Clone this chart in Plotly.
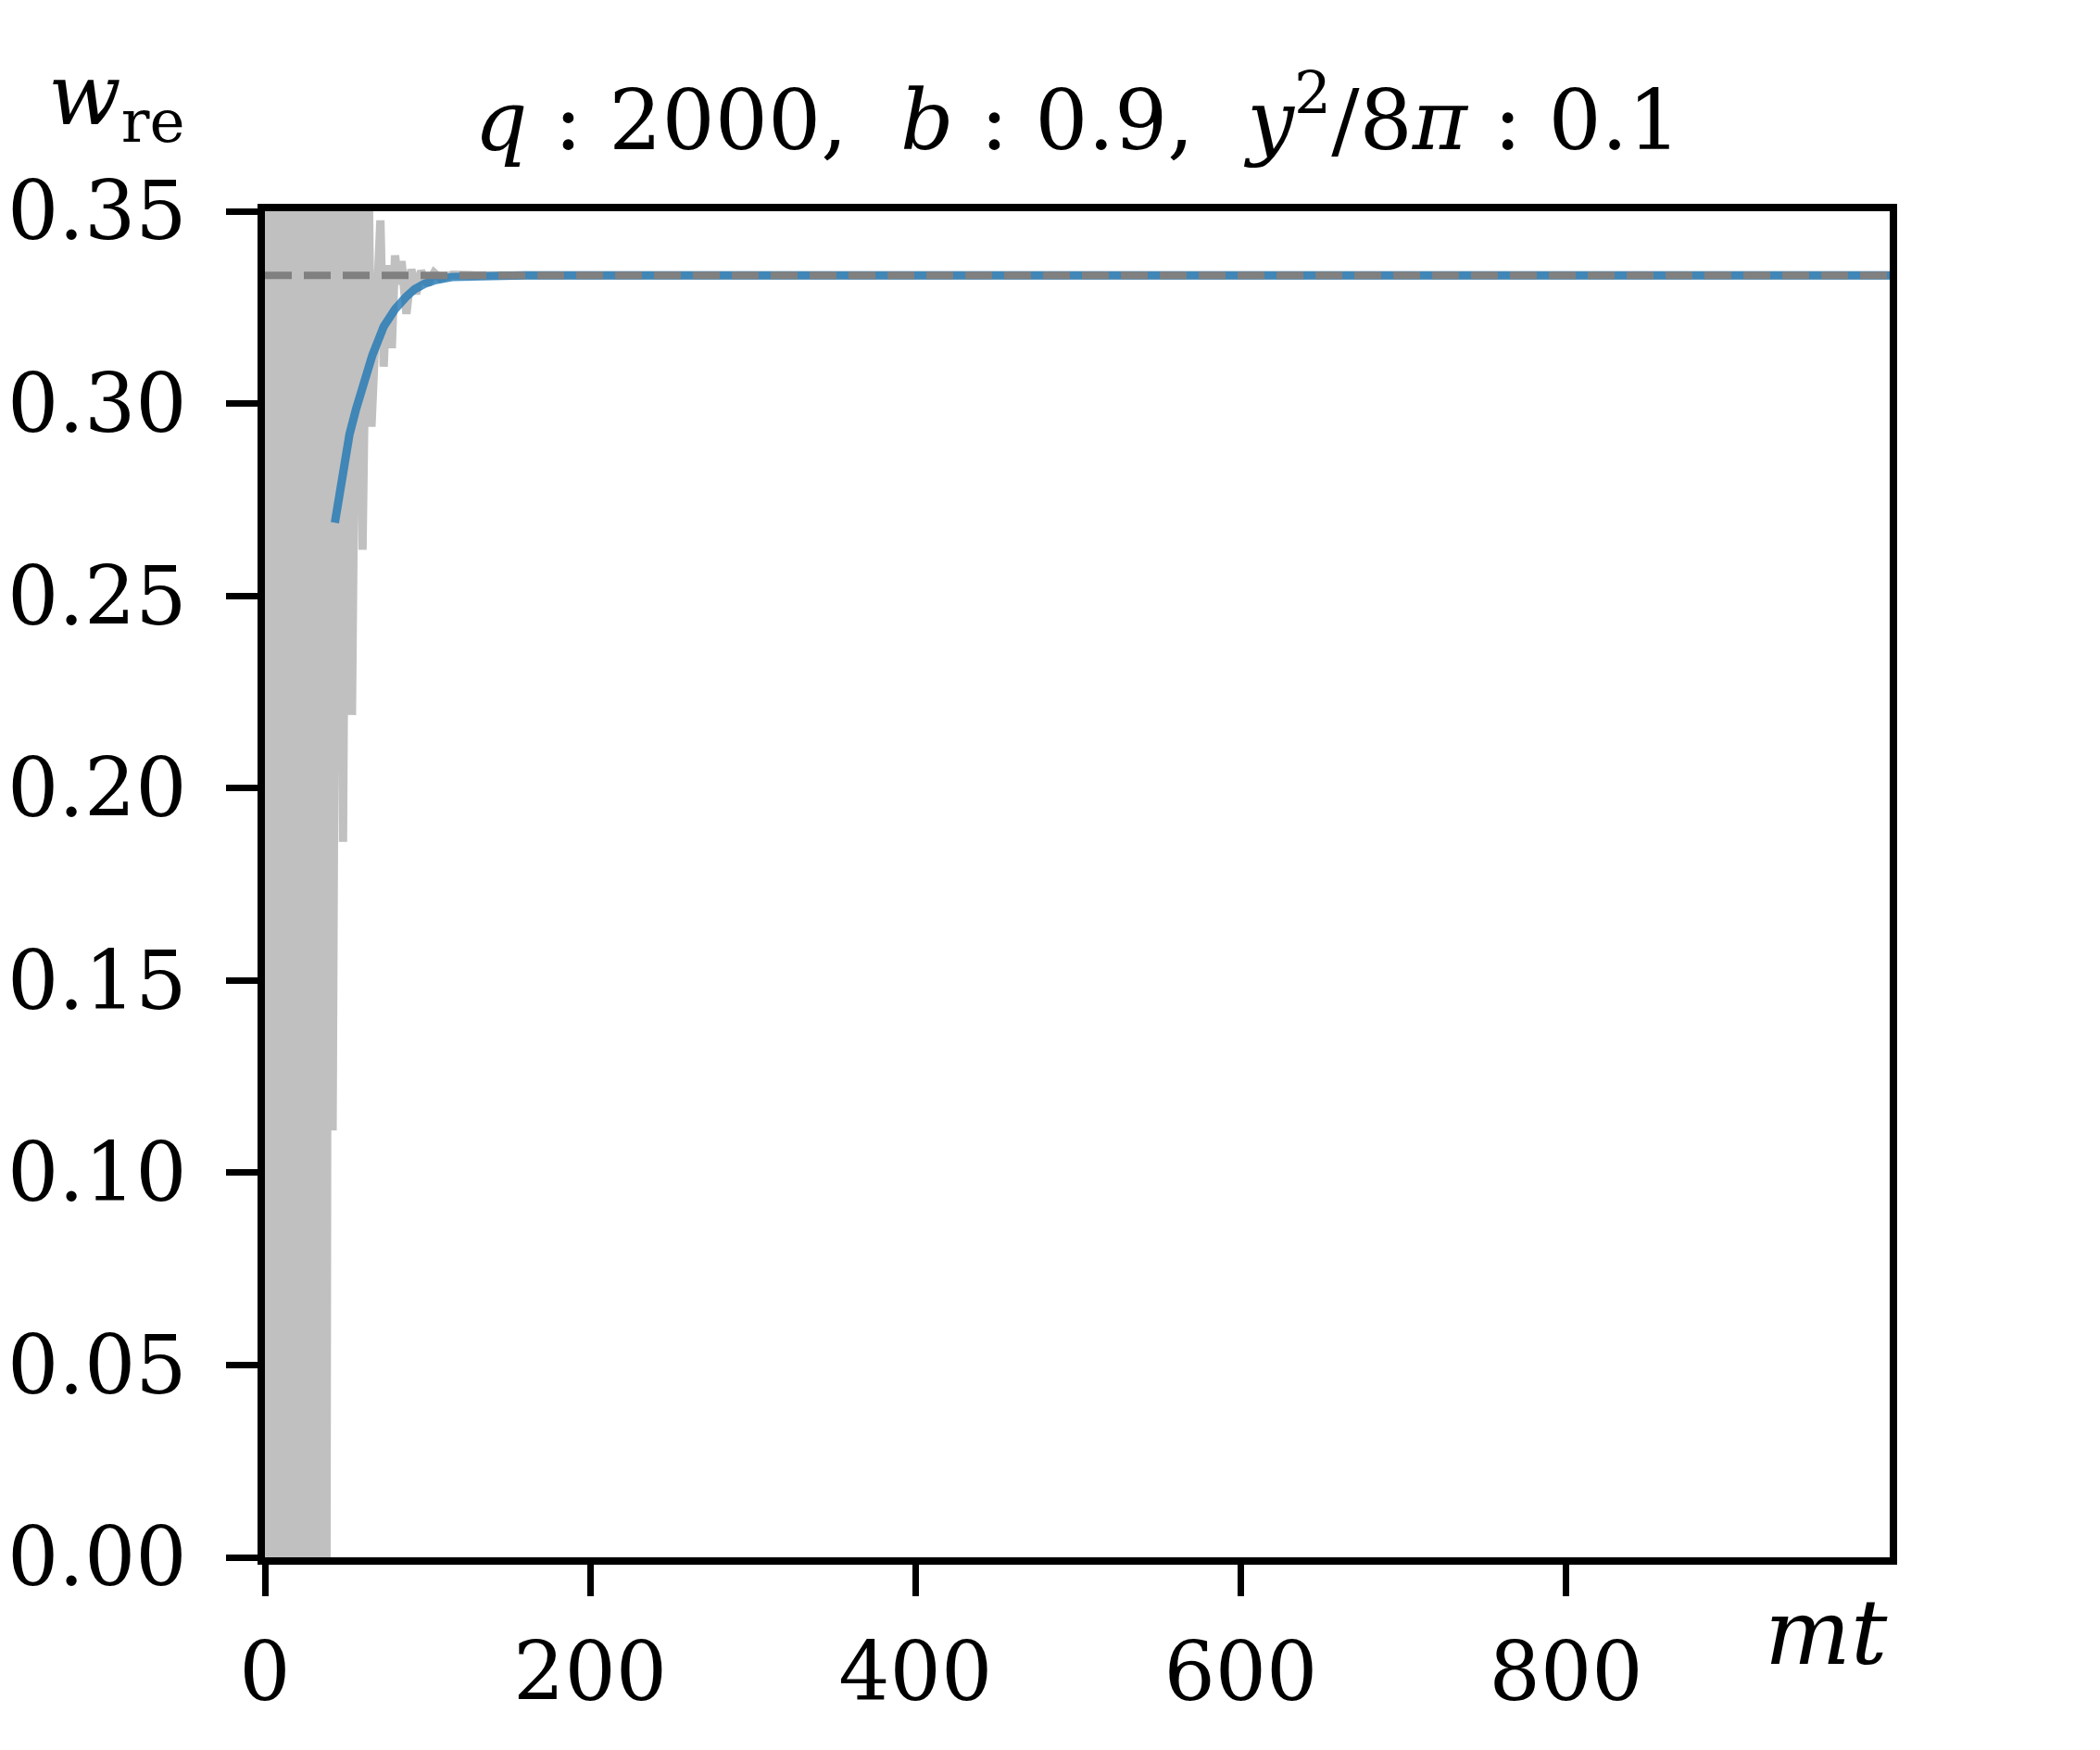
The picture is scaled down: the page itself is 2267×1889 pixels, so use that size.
import plotly.graph_objects as go

# ---- data ----
# grey raw oscillating signal (extrema read off the picture, then settled value)
t_raw = [0, 3, 6, 9, 12, 15, 18, 21, 24, 27, 30, 33, 35.5, 37.5, 39.5, 41.6, 45, 48, 51, 53.5,
         57, 60, 63.5, 65.5, 71, 73, 75.5, 78, 80, 82, 84, 87, 90, 93, 96, 100, 104, 108, 115, 130, 999]
w_raw = [0.9, -0.6, 1.0, -0.7, 0.95, -0.6, 0.85, -0.5, 0.75, -0.4, 0.65, -0.3, 0.55, -0.1, 0.45, 0.111,
         0.42, 0.186, 0.40, 0.219, 0.38, 0.262, 0.37, 0.294, 0.3476, 0.3096, 0.336, 0.3144, 0.3385, 0.331,
         0.337, 0.3233, 0.3349, 0.3285, 0.3345, 0.331, 0.334, 0.3325, 0.3335, 0.33333, 0.33333]

# blue smoothed curve
t_smooth = [43, 47.5, 52, 56, 60, 66, 73, 80, 86.5, 92, 98, 105, 115, 130, 160, 200, 999]
w_smooth = [0.269, 0.282, 0.292, 0.2985, 0.304, 0.3125, 0.320, 0.3245, 0.3276, 0.3297, 0.3311,
            0.3321, 0.3329, 0.3332, 0.33333, 0.33333, 0.33333]

# reference value (dashed)
t_ref = [0, 999]
w_ref = [1 / 3, 1 / 3]

x_ticks = [0, 200, 400, 600, 800]
y_ticks = [0.00, 0.05, 0.10, 0.15, 0.20, 0.25, 0.30, 0.35]
y_tick_text = ["%.2f" % v for v in y_ticks]

OFF = 8  # default page body margin
W, H = 2267 - 2 * OFF, 1889 - 2 * OFF
L, R, T, B = 286 - OFF, 2040 - OFF, 228 - OFF, 1681 - OFF
pw, ph = R - L, B - T

def px(x):
    return (x - OFF - L) / pw

def py(y):
    return (B - (y - OFF)) / ph

fig = go.Figure()
fig.add_trace(go.Scatter(x=t_raw, y=w_raw, mode="lines",
                         line=dict(color="#c0c0c0", width=9), showlegend=False))
fig.add_trace(go.Scatter(x=t_smooth, y=w_smooth, mode="lines",
                         line=dict(color="rgba(31,119,180,0.8)", width=9), showlegend=False))
fig.add_trace(go.Scatter(x=t_ref, y=w_ref, mode="lines",
                         line=dict(color="#808080", width=8, dash="29px,13px"), showlegend=False))

tickfont = dict(family="DejaVu Serif", size=87, color="black")
axis_common = dict(showgrid=False, zeroline=False, showline=True, mirror=True,
                   linecolor="black", linewidth=8, ticks="outside", ticklen=34, tickwidth=7,
                   tickcolor="black", tickfont=tickfont, automargin=False)
nb = "\u00a0"
fig.update_layout(
    width=W, height=H,
    margin=dict(l=L, r=W - R, t=T, b=H - B, autoexpand=False),
    plot_bgcolor="white", paper_bgcolor="white",
    xaxis=dict(range=[0, 999], tickvals=x_ticks, ticktext=[str(v) for v in x_ticks],
               ticklabelstandoff=8, **axis_common),
    yaxis=dict(range=[0, 0.35], tickvals=y_ticks, ticktext=y_tick_text,
               ticklabelstandoff=25, **axis_common),
    annotations=[
        dict(text=f"<i>q</i>{nb}:{nb}2000,{nb}{nb}<i>b</i>{nb}:{nb}0.9,{nb}{nb}<i>y</i><sup>2</sup>/8<i>π</i>{nb}:{nb}0.1",
             xref="paper", yref="paper", x=0.5, y=py(123), xanchor="center", yanchor="middle",
             showarrow=False, font=dict(family="DejaVu Serif", size=90, color="black")),
        dict(text="<i>w</i><sub>re</sub>", xref="paper", yref="paper", x=px(126), y=py(108),
             xanchor="center", yanchor="middle", showarrow=False,
             font=dict(family="DejaVu Serif", size=92, color="black")),
        dict(text="<i>mt</i>", xref="paper", yref="paper", x=px(2040), y=py(1762),
             xanchor="right", yanchor="middle", showarrow=False,
             font=dict(family="DejaVu Serif", size=98, color="black")),
    ],
)

fig.write_html("out.html")
